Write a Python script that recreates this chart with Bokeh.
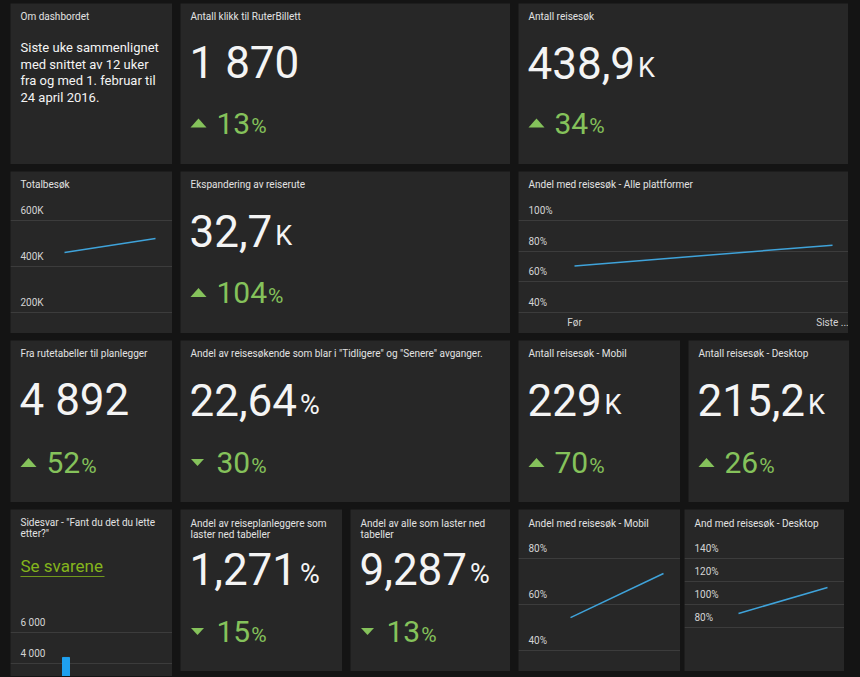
from bokeh.plotting import figure
from bokeh.layouts import row, column
from bokeh.models import (Range1d, Label, Grid, FixedTicker, BoxAnnotation,
                          GlobalInlineStyleSheet)
from bokeh.core.properties import value
from bokeh.embed import file_html
from bokeh.resources import INLINE

# ---------------- data ----------------
intro_title = "Om dashbordet"
intro_lines = ["Siste uke sammenlignet", "med snittet av 12 uker",
               "fra og med 1. februar til", "24 april 2016."]

kpi_titles = [
    "Antall klikk til RuterBillett",
    "Antall reisesøk",
    "Ekspandering av reiserute",
    "Fra rutetabeller til planlegger",
    "Andel av reisesøkende som blar i \"Tidligere\" og \"Senere\" avganger.",
    "Antall reisesøk - Mobil",
    "Antall reisesøk - Desktop",
    "Andel av reiseplanleggere som\nlaster ned tabeller",
    "Andel av alle som laster ned\ntabeller",
]
kpi_values = ["1 870", "438,9", "32,7", "4 892", "22,64", "229", "215,2", "1,271", "9,287"]
kpi_units = ["", "K", "K", "", "%", "K", "K", "%", "%"]
kpi_change = [13, 34, 104, 52, 30, 70, 26, 15, 13]
kpi_direction = ["up", "up", "up", "up", "down", "up", "up", "down", "down"]

periods = ["Før", "Siste uke"]
period_labels = ["Før", "Siste ..."]

total_title = "Totalbesøk"
total_values = [461000, 522000]
total_ticks = [200000, 400000, 600000]
total_tick_labels = ["200K", "400K", "600K"]

alle_title = "Andel med reisesøk - Alle plattformer"
alle_values = [70.4, 83.9]
alle_ticks = [40, 60, 80, 100]
alle_tick_labels = ["40%", "60%", "80%", "100%"]

mobil_title = "Andel med reisesøk - Mobil"
mobil_values = [54.3, 73.5]
mobil_ticks = [40, 60, 80]
mobil_tick_labels = ["40%", "60%", "80%"]

desktop_title = "And med reisesøk - Desktop"
desktop_values = [92.2, 114.8]
desktop_ticks = [80, 100, 120, 140]
desktop_tick_labels = ["80%", "100%", "120%", "140%"]

side_title = ["Sidesvar - \"Fant du det du lette", "etter?\""]
side_link = "Se svarene"
side_values = [4390]
side_ticks = [4000, 6000]
side_tick_labels = ["4 000", "6 000"]

# ---------------- style ----------------
FONT = "Roboto"
PAGE_BG = "#141414"
TILE_BG = "#272727"
TITLE_C = "#e2e2e2"
NUM_C = "#f4f4f4"
GREEN = "#85c25b"
LINE_C = "#3fa3da"
BAR_C = "#1fa0ef"
GRID_C = "#3c3c3c"
TICK_C = "#d4d4d4"
LINK_C = "#84b51c"
NUM_SIZE = 44
UNIT_SIZE = 27
DELTA_SIZE = 30
DELTA_UNIT_SIZE = 21
MID = 0.34  # distance (in em) from the text's middle to its baseline

ADV = {",": 0.1963, " ": 0.2485, ".": 0.2632}


def tw(s, size):
    return sum(0.5615 if c.isdigit() else ADV.get(c, 0.55) for c in s) * size


def lin_range(v1, p1, v2, p2, size):
    s = (p2 - p1) / (v2 - v1)
    start = v1 - p1 / s
    return Range1d(start, start + size / s)


def base_fig(w, h, xr, yr):
    p = figure(width=w, height=h, x_range=xr, y_range=yr, x_axis_type=None,
               y_axis_type=None, output_backend="svg", toolbar_location=None,
               min_border=0)
    p.outline_line_color = None
    p.background_fill_color = TILE_BG
    p.border_fill_color = TILE_BG
    return p


def txt(p, x, y, text, size, color, align="left"):
    p.text(x=x, y=y, text=text, text_font=value(FONT), text_font_size="%spx" % size,
           text_color=color, text_align=align, text_baseline="middle")


def kpi_tile(i, w, h, title_y=12.5, delta_c=121):
    p = base_fig(w, h, Range1d(0, w), Range1d(h, 0))
    lines = kpi_titles[i].split("\n")
    ty = [title_y] if len(lines) == 1 else [title_y, title_y + 11]
    txt(p, [10] * len(lines), ty, lines, 10, TITLE_C)
    nc = 59
    val = kpi_values[i]
    txt(p, [9], [nc], [val], NUM_SIZE, NUM_C)
    if kpi_units[i]:
        uc = nc + MID * (NUM_SIZE - UNIT_SIZE)
        txt(p, [9 + tw(val, NUM_SIZE) + 3], [uc], [kpi_units[i]], UNIT_SIZE, NUM_C)
    cy = delta_c
    if kpi_direction[i] == "up":
        xs, ys = [10, 26, 18], [cy + 4.5, cy + 4.5, cy - 4.5]
    else:
        xs, ys = [10.5, 23.5, 17], [cy - 3.5, cy - 3.5, cy + 3.5]
    p.patch(xs, ys, color=GREEN, line_width=0)
    ch = str(kpi_change[i])
    txt(p, [36], [cy], [ch], DELTA_SIZE, GREEN)
    pc = cy + MID * (DELTA_SIZE - DELTA_UNIT_SIZE)
    txt(p, [36 + tw(ch, DELTA_SIZE) + 1], [pc], ["%"], DELTA_UNIT_SIZE, GREEN)
    return p


def intro_tile(w, h):
    p = base_fig(w, h, Range1d(0, w), Range1d(h, 0))
    txt(p, [10], [12.5], [intro_title], 10, TITLE_C)
    ys = [44, 60.7, 77.4, 94.1]
    txt(p, [10] * 4, ys, intro_lines, 13, NUM_C)
    return p


def tick_text(p, xr, ticks, labels):
    p.text(x=[xr.start] * len(ticks), y=ticks, text=labels, x_offset=10, y_offset=-10,
           text_font=value(FONT), text_font_size="10px", text_color=TICK_C,
           text_baseline="middle")


def line_tile(w, h, title, title_y, vals, ticks, tick_labels, px, grid_px, xlabels=None):
    yr = lin_range(ticks[0], h - grid_px[0], ticks[-1], h - grid_px[1], h)
    xr = lin_range(0, px[0], 1, px[1], w)
    p = base_fig(w, h, xr, yr)
    p.add_layout(Grid(dimension=1, ticker=FixedTicker(ticks=ticks),
                      grid_line_color=GRID_C, grid_line_width=1))
    p.line(x=[0, 1], y=vals, line_color=LINE_C, line_width=1.5)
    tick_text(p, xr, ticks, tick_labels)
    if xlabels:
        p.text(x=[0, 1], y=[yr.start] * 2, text=xlabels, y_offset=-11,
               text_font=value(FONT), text_font_size="10px", text_color=TICK_C,
               text_align="center", text_baseline="middle")
    p.add_layout(Label(x=10, y=h - title_y, x_units="screen", y_units="screen",
                       text=title, text_font=FONT, text_font_size="10px",
                       text_color=TITLE_C, text_baseline="middle"))
    return p


def side_tile(w, h):
    # grid positions measured from the tile top
    yr = lin_range(side_ticks[0], h - 154, side_ticks[1], h - 123, h)
    xr = lin_range(0, 55.5, 1, 75.5, w)
    p = base_fig(w, h, xr, yr)
    p.add_layout(Grid(dimension=1, ticker=FixedTicker(ticks=side_ticks),
                      grid_line_color=GRID_C, grid_line_width=1))
    p.vbar(x=[0], top=side_values, bottom=0, width=0.35, color=BAR_C)
    tick_text(p, xr, side_ticks, side_tick_labels)
    for k, line in enumerate(side_title):
        p.add_layout(Label(x=10, y=h - (13 + 11 * k), x_units="screen", y_units="screen",
                           text=line, text_font=FONT, text_font_size="10px",
                           text_color=TITLE_C, text_baseline="middle"))
    p.add_layout(Label(x=10, y=h - 56, x_units="screen", y_units="screen",
                       text=side_link, text_font=FONT, text_font_size="17px",
                       text_color=LINK_C, text_baseline="middle"))
    p.add_layout(BoxAnnotation(left=10, right=94, bottom=h - 67.5, top=h - 66.5,
                               left_units="screen", right_units="screen",
                               bottom_units="screen", top_units="screen",
                               fill_color=LINK_C, fill_alpha=0.8, line_color=None))
    return p


H1, H2, H3, H4 = 161, 162, 162, 162

r1 = row(intro_tile(162, H1), kpi_tile(0, 330, H1, delta_c=119.5),
         kpi_tile(1, 330, H1, delta_c=119.5), spacing=8)
r2 = row(line_tile(162, H2, total_title, 13, total_values, total_ticks, total_tick_labels,
                   (54, 145), (141, 49)),
         kpi_tile(2, 330, H2),
         line_tile(330, H2, alle_title, 13, alle_values, alle_ticks, alle_tick_labels,
                   (56, 314), (141, 49), xlabels=period_labels),
         spacing=8)
r3 = row(kpi_tile(3, 162, H3, delta_c=122), kpi_tile(4, 330, H3, delta_c=122),
         kpi_tile(5, 162, H3, delta_c=122), kpi_tile(6, 161, H3, delta_c=122), spacing=8)
r4 = row(side_tile(162, 167), kpi_tile(7, 162, H4, title_y=14, delta_c=122),
         kpi_tile(8, 160, H4, title_y=14, delta_c=122),
         row(line_tile(162, H4, mobil_title, 14, mobil_values, mobil_ticks, mobil_tick_labels,
                       (52, 145), (141, 49)),
             line_tile(160, H4, desktop_title, 14, desktop_values, desktop_ticks,
                       desktop_tick_labels, (54, 143), (118, 49)),
             spacing=4),
         spacing=8)

layout = column(r1, r2, r3, r4, spacing=7)
layout.margin = (3, 0, 0, 10)
layout.stylesheets = [GlobalInlineStyleSheet(css="body { background-color: %s; }" % PAGE_BG)]

open("out.html", "w").write(file_html(layout, INLINE))
